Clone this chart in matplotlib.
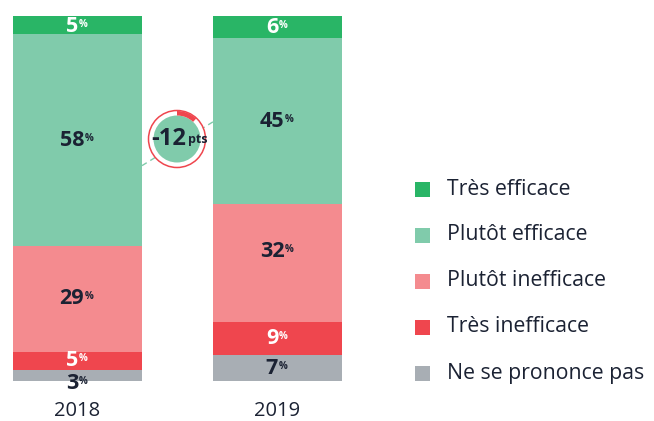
import matplotlib
matplotlib.use("Agg")
from matplotlib import pyplot as plt
from matplotlib.patches import Rectangle, Circle, Wedge

plt.rcParams['font.family'] = ['Open Sans', 'DejaVu Sans']

years = ['2018', '2019']
categories = ['Très efficace', 'Plutôt efficace', 'Plutôt inefficace',
              'Très inefficace', 'Ne se prononce pas']
# shares per year, top of the bar to the bottom
values_2018 = [5, 58, 29, 5, 3]
values_2019 = [6, 45, 32, 9, 7]
change_pts = -12

colors = ['#29b566', '#80cbab', '#f48b8f', '#ef464e', '#a8aeb4']
label_colors = ['white', '#1b2233', '#1b2233', 'white', '#1b2233']
navy = '#1b2233'

fig = plt.figure(figsize=(6.54, 4.21), dpi=100)
W, H = 654, 421
# bars span pixel rows 16..381, centres 200 px apart
ax = fig.add_axes([0, (H - 381) / H, 1, 365 / H])
ax.set_xlim(-77.5 / 200, (W - 77.5) / 200)
ax.set_ylim(0, 100)
ax.axis('off')

bar_w = 129 / 200
# small nudges (points) for labels that sit off-centre
nudges = {(0, 4): -6, (1, 2): 8, (0, 0): -1}

for i, vals in enumerate([values_2018, values_2019]):
    total = sum(vals)
    top = 100.0
    for j, v in enumerate(vals):
        h = v / total * 100
        ax.bar(i, h, bottom=top - h, width=bar_w, color=colors[j], linewidth=0)
        yc = top - h / 2
        t = ax.annotate(str(v), xy=(i, yc), xytext=(-4, nudges.get((i, j), 0)),
                        textcoords='offset points', ha='center', va='center',
                        fontsize=15.5, fontweight='bold', color=label_colors[j])
        ax.annotate('%', xy=(1.0, 0.86), xycoords=t, xytext=(0.5, 0),
                    textcoords='offset points', ha='left', va='top',
                    fontsize=7, fontweight='bold', color=label_colors[j])
        top -= h
    ax.text(i, -8.2, years[i], ha='center', va='center', fontsize=14.5,
            color=navy)

# dashed link between the two "plutôt efficace" blocks
ax.plot([bar_w / 2, 1 - bar_w / 2], [59, 71], ls=(0, (4, 3)), lw=1,
        color=colors[1], zorder=1)

# change badge
bx = fig.add_axes([(177 - 32) / W, (H - 139 - 32) / H, 64 / W, 64 / H])
bx.set_xlim(-32, 32)
bx.set_ylim(-32, 32)
bx.set_aspect('equal')
bx.axis('off')
bx.add_patch(Circle((0, 0), 28.5, facecolor='white', edgecolor='#ef464e', lw=1.1))
bx.add_patch(Circle((0, 0), 23.5, facecolor=colors[1], edgecolor='none'))
span = abs(change_pts) / 100 * 360
bx.add_patch(Wedge((0, 0), 28, 90 - span, 90, width=4.5,
                   facecolor='#ef464e', edgecolor='none'))
t = bx.text(-8, 0, str(change_pts), ha='center', va='center',
            fontsize=17, fontweight='bold', color=navy)
bx.annotate('pts', xy=(1.0, 0.22), xycoords=t, xytext=(1, 0),
            textcoords='offset points', ha='left', va='bottom',
            fontsize=9, fontweight='bold', color=navy)

# legend
for k, name in enumerate(categories):
    y = 189 + k * 46
    fig.patches.append(Rectangle((415 / W, (H - y - 7.5) / H), 15 / W, 15 / H,
                                 transform=fig.transFigure, facecolor=colors[k],
                                 edgecolor='none'))
    fig.text(447 / W, (H - y) / H, name, ha='left', va='center',
             fontsize=15.3, color=navy)

fig.savefig('out.png', dpi=100)
